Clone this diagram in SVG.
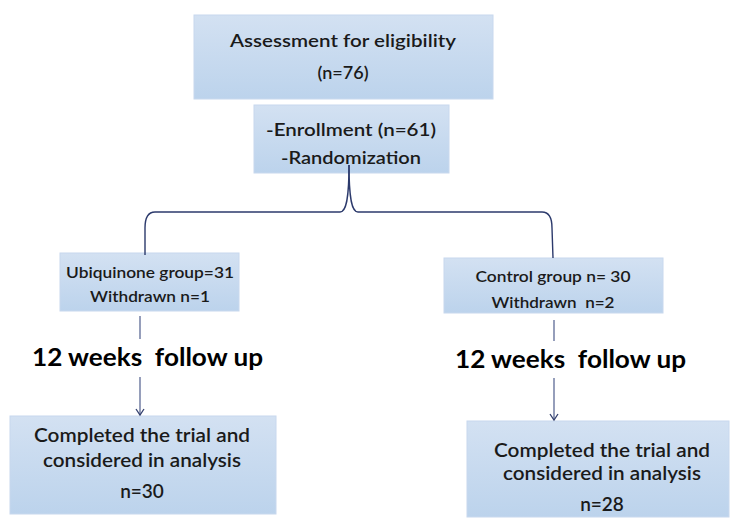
<svg xmlns="http://www.w3.org/2000/svg" width="734" height="526" viewBox="0 0 734 526">
<defs>
<linearGradient id="bg" x1="0" y1="0" x2="0" y2="1">
<stop offset="0" stop-color="#d3e1f2"/>
<stop offset="1" stop-color="#bcd3ec"/>
</linearGradient>
<marker id="ah" markerWidth="10" markerHeight="10" refX="7" refY="5" orient="auto" markerUnits="userSpaceOnUse">
<path d="M1,1 L7,5 L1,9" fill="none" stroke="#34406e" stroke-width="1.3"/>
</marker>
<style>
.box{fill:url(#bg);stroke:#c8d8ee;stroke-width:1}
.t{font-family:Lato,"Liberation Sans",Arial,sans-serif;font-weight:600;fill:#1a1a1a;text-anchor:middle;white-space:pre}
.big{font-family:Lato,"Liberation Sans",Arial,sans-serif;font-weight:bold;fill:#000;font-size:25px;white-space:pre}
.ln{fill:none;stroke:#5d6a96;stroke-width:1.3}
.br{fill:none;stroke:#2c3a6c;stroke-width:1.4}
</style>
</defs>
<g id="assessment">
<rect class="box" x="194" y="15" width="299" height="84"/>
<text class="t" x="343" y="47" font-size="18" textLength="226" lengthAdjust="spacingAndGlyphs">Assessment for eligibility</text>
<text class="t" x="343" y="79" font-size="18">(n=76)</text>
</g>
<g id="enrollment">
<rect class="box" x="254" y="105" width="195" height="68"/>
<text class="t" x="351" y="136" font-size="18" textLength="170" lengthAdjust="spacingAndGlyphs">-Enrollment (n=61)</text>
<text class="t" x="351" y="164" font-size="18" textLength="140" lengthAdjust="spacingAndGlyphs">-Randomization</text>
</g>
<g id="ubiquinone">
<rect class="box" x="60" y="253" width="179" height="58"/>
<text class="t" x="150" y="278" font-size="15" textLength="168" lengthAdjust="spacingAndGlyphs">Ubiquinone group=31</text>
<text class="t" x="150" y="302" font-size="15" textLength="120" lengthAdjust="spacingAndGlyphs">Withdrawn n=1</text>
</g>
<g id="control">
<rect class="box" x="444" y="258" width="219" height="55"/>
<text class="t" x="553" y="282" font-size="15" textLength="155" lengthAdjust="spacingAndGlyphs">Control group n= 30</text>
<text class="t" x="553" y="308" font-size="15" textLength="123" lengthAdjust="spacingAndGlyphs">Withdrawn  n=2</text>
</g>
<g id="followup-left">
<text class="big" x="32" y="366" textLength="231" lengthAdjust="spacingAndGlyphs">12 weeks  follow up</text>
</g>
<g id="followup-right">
<text class="big" x="455" y="368" textLength="231" lengthAdjust="spacingAndGlyphs">12 weeks  follow up</text>
</g>
<g id="completed-left">
<rect class="box" x="10" y="416" width="266" height="98"/>
<text class="t" x="142" y="442" font-size="19" textLength="216" lengthAdjust="spacingAndGlyphs">Completed the trial and</text>
<text class="t" x="142" y="467" font-size="19" textLength="198" lengthAdjust="spacingAndGlyphs">considered in analysis</text>
<text class="t" x="142" y="498" font-size="19">n=30</text>
</g>
<g id="completed-right">
<rect class="box" x="467" y="421" width="262" height="96"/>
<text class="t" x="602" y="457" font-size="19" textLength="216" lengthAdjust="spacingAndGlyphs">Completed the trial and</text>
<text class="t" x="602" y="480" font-size="19" textLength="198" lengthAdjust="spacingAndGlyphs">considered in analysis</text>
<text class="t" x="602" y="511" font-size="19">n=28</text>
</g>
<g id="connectors">
<path class="br" d="M349,165 C349,200 346,212 340,212 L155,212 C147,212 145,220 145,228 L145,255"/>
<path class="br" d="M349,165 C349,200 352,212 358,212 L542,212 C550,212 552,220 552,228 L553,258"/>
<line class="ln" x1="140" y1="316" x2="140" y2="339"/>
<line class="ln" x1="140" y1="377" x2="140" y2="415" marker-end="url(#ah)"/>
<line class="ln" x1="554" y1="320" x2="554" y2="341"/>
<line class="ln" x1="554" y1="378" x2="554" y2="420" marker-end="url(#ah)"/>
</g>
</svg>
